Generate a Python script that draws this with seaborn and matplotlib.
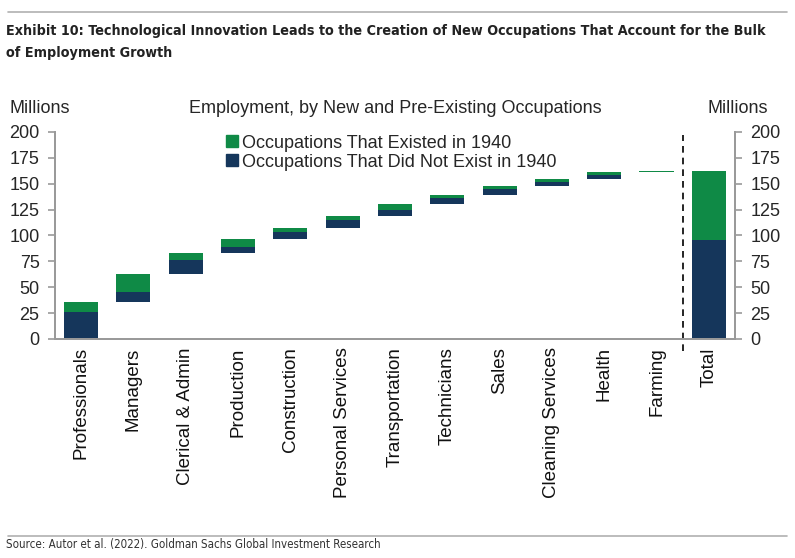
import numpy as np
import pandas as pd
import seaborn as sb
import matplotlib.pyplot as plt
from matplotlib.lines import Line2D
from matplotlib.patches import Patch

# values (millions)
categories = ["Professionals", "Managers", "Clerical & Admin", "Production", "Construction",
              "Personal Services", "Transportation", "Technicians", "Sales",
              "Cleaning Services", "Health", "Farming"]
new_occ = [26, 10, 14, 5.5, 6.5, 7.5, 5.5, 6.4, 5.8, 3.9, 3.9, 0.5]
existed_occ = [9.5, 17, 7, 7.5, 4.7, 3.8, 5.5, 2.9, 2.9, 2.9, 2.2, 0.6]
yticks = [0, 25, 50, 75, 100, 125, 150, 175, 200]

green = "#0f8a46"
navy = "#15365b"
grey = "#9a9a9a"

sb.set_style("white")
plt.rcParams["font.family"] = ["Liberation Sans", "DejaVu Sans"]

# waterfall: each step starts where the previous one ended
step = np.array(new_occ) + np.array(existed_occ)
base = np.concatenate([[0], np.cumsum(step)[:-1]])
df = pd.DataFrame({
    "cat": categories + ["Total"],
    "base": list(base) + [0],
    "new": new_occ + [sum(new_occ)],
    "existed": existed_occ + [sum(existed_occ)],
})

fig = plt.figure(figsize=(7.95, 5.58), dpi=100)
ax = fig.add_axes([0.069, 0.3925, 0.8555, 0.371])

sb.barplot(data=df, x="cat", y="new", bottom=df["base"], color=navy, width=0.65,
           linewidth=0, saturation=1, ax=ax)
sb.barplot(data=df, x="cat", y="existed", bottom=df["base"] + df["new"], color=green,
           width=0.65, linewidth=0, saturation=1, ax=ax)

ax.set_xlim(-0.5, len(df) - 0.5)
ax.set_ylim(0, 200)
ax.set_yticks(yticks)
ax.set_xlabel("")
ax.set_ylabel("")
ax.tick_params(axis="x", labelrotation=90, labelsize=13.5, length=0, pad=6)
ax.tick_params(axis="y", labelsize=13, length=5, color=grey, width=1.2, pad=6)
ax.set_xticks(range(len(df)))
ax.set_xticklabels(df["cat"], color="#111111")
# bottom minor ticks at category boundaries
ax.set_xticks(np.arange(-0.5, len(df), 1), minor=True)
ax.tick_params(axis="x", which="minor", length=5, color=grey, width=1.2, direction="out")

ax2 = ax.twinx()
ax2.set_ylim(0, 200)
ax2.set_yticks(yticks)
ax2.tick_params(axis="y", labelsize=13, length=5, color=grey, width=1.2, pad=6)

for a in (ax, ax2):
    a.spines["top"].set_visible(False)
    for s in ["left", "right", "bottom"]:
        a.spines[s].set_color(grey)
        a.spines[s].set_linewidth(1.4)

# dashed separator before total
ax.plot([11.5, 11.5], [-12, 197], ls=(0, (4, 3)), color="black", lw=1.2, clip_on=False)

handles = [Patch(color=green), Patch(color=navy)]
ax.legend(handles, ["Occupations That Existed in 1940", "Occupations That Did Not Exist in 1940"],
          loc="upper left", bbox_to_anchor=(0.228, 1.065), frameon=False, fontsize=13,
          handlelength=0.65, handleheight=0.65, handletextpad=0.2, labelspacing=0.1)

fig.text(0.012, 0.806, "Millions", fontsize=13, ha="left", va="center")
fig.text(0.497, 0.806, "Employment, by New and Pre-Existing Occupations", fontsize=13,
         ha="center", va="center")
fig.text(0.89, 0.806, "Millions", fontsize=13, ha="left", va="center")

title_kw = dict(fontweight="bold", family="DejaVu Sans", fontstretch="condensed",
                color="#222222", va="center")
fig.text(0.008, 0.945, "Exhibit 10: Technological Innovation Leads to the Creation of New Occupations That Account for the Bulk",
         fontsize=10.3, **title_kw)
fig.text(0.008, 0.905, "of Employment Growth", fontsize=10.3, **title_kw)
fig.text(0.008, 0.012, "Source: Autor et al. (2022). Goldman Sachs Global Investment Research",
         fontsize=8.3, family="DejaVu Sans", fontstretch="condensed", color="#333333",
         va="bottom")

fig.add_artist(Line2D([0.01, 0.99], [0.978, 0.978], color="#b0b0b0", lw=1.2))
fig.add_artist(Line2D([0.01, 0.99], [0.04, 0.04], color="#b0b0b0", lw=1.2))

fig.savefig("out.png", dpi=100)
